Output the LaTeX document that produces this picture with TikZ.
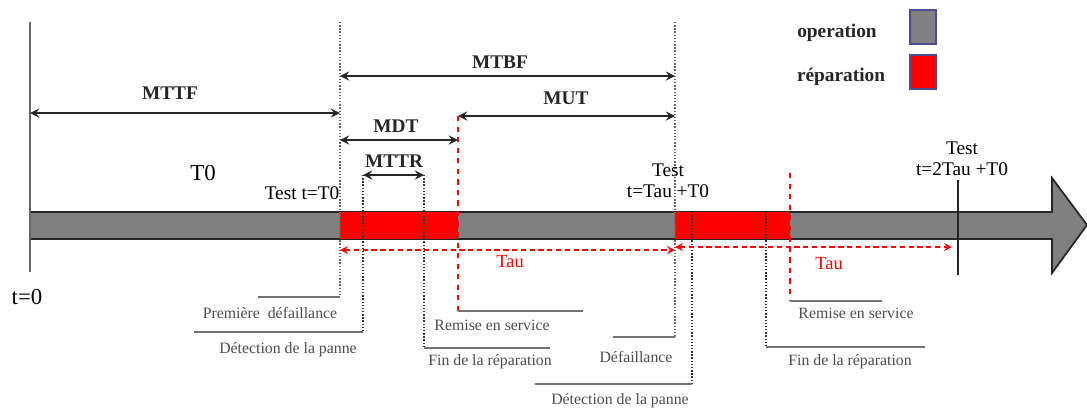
\documentclass[tikz,border=0pt]{standalone}
\usepackage{fontspec}
\setmainfont{Liberation Serif}
\begin{document}
\begin{tikzpicture}[
  x=0.02cm,y=-0.02cm,>=stealth,
  dim/.style={<->,line width=1.3pt,black!85},
  tau/.style={<->,densely dashed,red,line width=1pt},
  guide/.style={densely dotted,black!80,line width=0.8pt},
  redguide/.style={dashed,red,line width=1.1pt},
  leader/.style={black!55,line width=1pt},
  tag/.style={font=\fontsize{11}{13}\selectfont\bfseries,text=black!85},
  testtag/.style={font=\fontsize{11}{12}\selectfont,align=center,inner sep=0pt},
  call/.style={font=\fontsize{9}{10}\selectfont,text=black!70},
  legbox/.style={draw=blue!40!black!70,semithick,minimum width=0.52cm,minimum height=0.68cm}
]
  \useasboundingbox (0,0) rectangle (1087,410);

  % time axis with the two repair blocks
  \draw[black!85,line width=1pt,fill=black!50] (30,212)--(1052,212)--(1052,178)--(1087,225)
    --(1052,273)--(1052,239)--(30,239)--cycle;
  \fill[red] (340,212) rectangle (458,239);
  \fill[red] (675,212) rectangle (790,239);

  % event lines and callouts
  \draw[black!60,line width=1pt] (30,22)--(30,272);
  \draw[guide,black!60] (340,22)--(340,297);
  \draw[leader] (340,297)--(258,297);
  \draw[guide] (363,175)--(363,332);
  \draw[leader] (363,332)--(194,332);
  \draw[guide] (424,175)--(424,348);
  \draw[leader] (424,348)--(550,348);
  \draw[redguide] (458,116)--(458,311);
  \draw[leader] (458,311)--(583,311);
  \draw[guide,black!60] (675,22)--(675,337);
  \draw[leader] (675,337)--(613,337);
  \draw[guide] (692,212)--(692,384);
  \draw[leader] (692,384)--(535,384);
  \draw[guide] (766,212)--(766,347);
  \draw[leader] (766,347)--(925,347);
  \draw[redguide] (790,173)--(790,301);
  \draw[leader] (790,301)--(882,301);
  \draw[black!85,semithick] (958,180)--(958,275);

  \node[call] (pdef) at (270,313) {Première\ \ défaillance};
  \node[call] (det1) at (288,350) {Détection de la panne};
  \node[call] (fin1) at (490,362) {Fin de la réparation};
  \node[call] (rem1) at (492,325) {Remise en service};
  \node[call] (def2) at (636,357) {Défaillance};
  \node[call] (det2) at (620,401) {Détection de la panne};
  \node[call] (fin2) at (850,362) {Fin de la réparation};
  \node[call] (rem2) at (856,313) {Remise en service};

  % durations
  \coordinate (mttfL) at (30,113);  \coordinate (mttfR) at (340,113);
  \coordinate (mtbfL) at (340,76);  \coordinate (mtbfR) at (675,76);
  \coordinate (mutL) at (458,116);  \coordinate (mutR) at (675,116);
  \coordinate (mdtL) at (340,140);  \coordinate (mdtR) at (458,140);
  \coordinate (mttrL) at (363,175); \coordinate (mttrR) at (424,175);
  \draw[dim] (mttfL)--(mttfR);
  \draw[dim] (mtbfL)--(mtbfR);
  \draw[dim] (mutL)--(mutR);
  \draw[dim] (mdtL)--(mdtR);
  \draw[dim] (mttrL)--(mttrR);
  \node[tag] (mttf) at (170,93) {MTTF};
  \node[tag] (mtbf) at (500,62) {MTBF};
  \node[tag] (mut) at (566,98) {MUT};
  \node[tag] (mdt) at (396,126) {MDT};
  \node[tag] (mttr) at (394,161) {MTTR};

  \coordinate (tauA) at (340,250); \coordinate (tauB) at (675,250);
  \coordinate (tauC) at (675,247); \coordinate (tauD) at (952,247);
  \draw[tau] (tauA)--(tauB);
  \draw[tau] (tauC)--(tauD);
  \node[text=red,font=\fontsize{10.5}{12}\selectfont] (tau1) at (510,262) {Tau};
  \node[text=red,font=\fontsize{10.5}{12}\selectfont] (tau2) at (829,264) {Tau};

  % times
  \node[font=\fontsize{13}{15}\selectfont] (tzero) at (27,297) {t=0};
  \node[font=\fontsize{13}{15}\selectfont] (T0) at (203,173) {T0};
  \node[testtag] (test1) at (302,193) {Test t=T0};
  \node[testtag] (test2) at (668,181) {Test\\t=Tau +T0};
  \node[testtag] (test3) at (962,159) {Test\\t=2Tau +T0};

  % legend
  \node[tag] (op) at (837,33) {operation};
  \node[tag] (rep) at (841,77) {réparation};
  \node[legbox,fill=black!50] (opbox) at (923,27) {};
  \node[legbox,fill=red] (repbox) at (923,72) {};
\end{tikzpicture}
\end{document}
